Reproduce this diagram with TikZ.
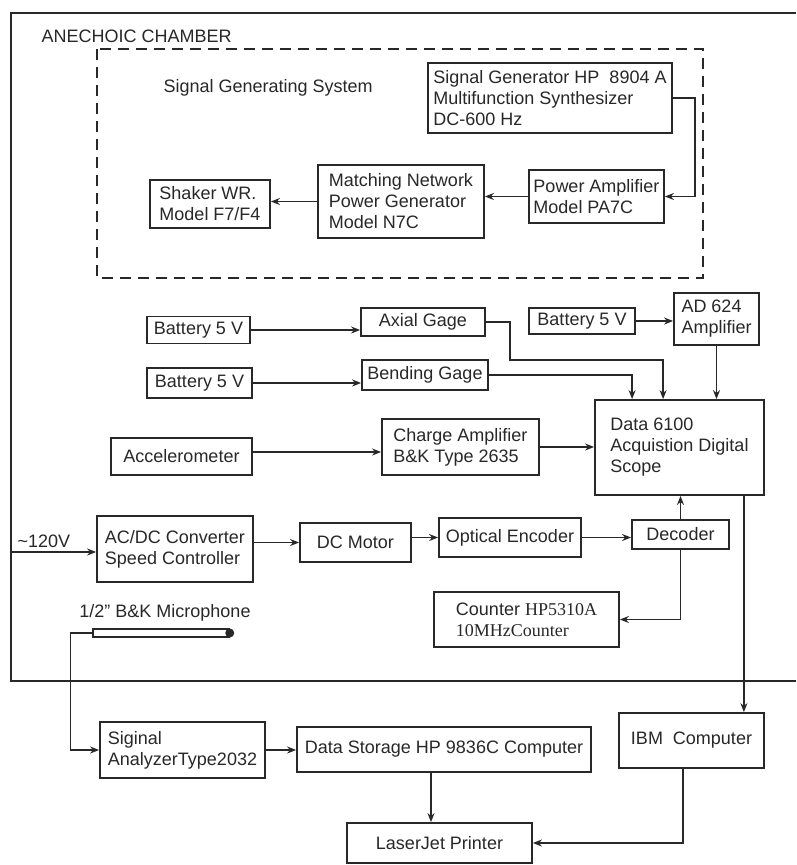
\documentclass[tikz,border=0pt]{standalone}
\usepackage{fontspec}
\setmainfont{Liberation Sans}
\newfontfamily\serf{Liberation Serif}
\usetikzlibrary{arrows.meta,calc}
\definecolor{ink}{RGB}{40,40,40}
\begin{document}
\begin{tikzpicture}[x=1pt,y=-1pt,
  every node/.style={font=\fontsize{18}{21}\selectfont, text=ink},
  box/.style={draw=ink, line width=1.8pt, inner xsep=4pt, inner ysep=0pt},
  arr/.style={draw=ink, line width=1.5pt, -{Stealth[length=9pt,width=7pt]}},
  ln/.style={draw=ink, line width=1.5pt}]
\useasboundingbox[fill=white] (0,0) rectangle (796,865);

% chamber and signal generating system
\draw[ink, line width=2.4pt] (796,13) -- (11,13) -- (11,681) -- (796,681);
\draw[ink, line width=1.7pt, dash pattern=on 11pt off 7pt] (97,49) rectangle (703,278);
\node[anchor=west] (chlabel) at (38,36) {ANECHOIC CHAMBER};
\node[anchor=west] (sgslabel) at (160,88) {Signal Generating System};

% boxes
\node[box, minimum width=244pt, minimum height=70pt, align=left] (siggen) at (550,98) {Signal Generator HP\ \ 8904 A\\Multifunction Synthesizer\\DC-600 Hz};
\node[box, minimum width=135pt, minimum height=53pt, align=left] (pamp) at (596.5,196.5) {Power Amplifier\\Model PA7C};
\node[box, minimum width=166pt, minimum height=73pt, align=left] (match) at (401,201.5) {Matching Network\\Power Generator\\Model N7C};
\node[box, minimum width=120pt, minimum height=48pt, align=left] (shaker) at (210,204) {Shaker WR.\\Model F7/F4};
\node[box, minimum width=103pt, minimum height=27pt] (bat1) at (198.5,330) {Battery 5 V};
\node[box, minimum width=105pt, minimum height=30pt] (bat2) at (199.5,383) {Battery 5 V};
\node[box, minimum width=141pt, minimum height=37pt] (accel) at (181.5,456.5) {Accelerometer};
\node[box, minimum width=156pt, minimum height=66pt, align=left] (acdc) at (175,549) {AC/DC Converter\\Speed Controller};
\node[box, minimum width=111pt, minimum height=39pt] (motor) at (355.5,542.5) {DC Motor};
\node[box, minimum width=124pt, minimum height=28pt] (axial) at (423,322) {Axial Gage};
\node[box, minimum width=126pt, minimum height=30pt] (bend) at (425,375) {Bending Gage};
\node[box, minimum width=106pt, minimum height=26pt] (bat3) at (582,321) {Battery 5 V};
\node[box, minimum width=85pt, minimum height=52pt, align=left] (ad) at (716.5,319) {AD 624\\Amplifier};
\node[box, minimum width=169pt, minimum height=95pt, align=left] (data) at (679.5,447.5) {Data 6100\\Acquistion Digital\\Scope};
\node[box, minimum width=157pt, minimum height=56pt, align=left] (charge) at (460.5,447) {Charge Amplifier\\B\&K Type 2635};
\node[box, minimum width=142pt, minimum height=39pt] (optical) at (510,537.5) {Optical Encoder};
\node[box, minimum width=97pt, minimum height=29pt] (decoder) at (680.5,534.5) {Decoder};
\node[box, minimum width=185pt, minimum height=55pt, align=left] (counter) at (526.5,619.5) {Counter {\serf HP5310A}\\{\serf 10MHzCounter}};
\node[box, minimum width=145pt, minimum height=55pt] (ibm) at (691.5,740.5) {IBM\ \ Computer};
\node[box, minimum width=165pt, minimum height=56pt, align=left] (sa) at (182.5,750) {Siginal\\AnalyzerType2032};
\node[box, minimum width=294pt, minimum height=45pt] (ds) at (444,749.5) {Data Storage HP 9836C Computer};
\node[box, minimum width=185pt, minimum height=40pt] (lj) at (439.5,843) {LaserJet Printer};

% microphone
\node[draw=ink, line width=1.5pt, minimum width=136pt, minimum height=8pt, inner sep=0pt] (mic) at (161,633) {};
\fill[ink] (mic.east) circle (4.5pt);
\node (miclabel) at (165,613) {1/2" B\&K Microphone};

% mains
\coordinate (wall) at (11,552);
\node[anchor=base west] (mains) at (14,547) {\textasciitilde120V};

% connectors
\draw[arr] (siggen.east) -- ++(22,0) |- (pamp.east);
\draw[arr] (pamp.west) -- (pamp.west -| match.east);
\draw[arr] (match.west) -- (match.west -| shaker.east);
\draw[arr] (bat1.east) -- (bat1.east -| axial.west);
\draw[arr] (bat2.east) -- (bat2.east -| bend.west);
\draw[arr] (bat3.east) -- (bat3.east -| ad.west);
\draw[arr] (axial.east) -- ++(24,0) -- ++(0,38) -| ([xshift=69pt]data.north west);
\draw[arr] (bend.east) -| ([xshift=38pt]data.north west);
\draw[arr] (ad.south) -- (ad.south |- data.north);
\draw[arr] ([yshift=4.5pt]accel.east) -- ([yshift=4.5pt]accel.east -| charge.west);
\draw[arr] (charge.east) -- (charge.east -| data.west);
\draw[arr] (wall) -- (wall -| acdc.west);
\draw[arr] (motor.west -| acdc.east) -- (motor.west);
\draw[arr] (optical.west -| motor.east) -- (optical.west);
\draw[arr] (optical.east) -- (optical.east -| decoder.west);
\draw[arr] (decoder.north) -- (decoder.north |- data.south);
\draw[arr] (decoder.south) |- (counter.east);
\draw[arr] ([xshift=-21pt]data.south east) -- ([xshift=-21pt]data.south east |- ibm.north);
\draw[arr] (mic.west) -- ++(-22,0) |- (sa.west);
\draw[arr] (sa.east) -- (sa.east -| ds.west);
\draw[arr] ([xshift=-13pt]ds.south) -- ([xshift=-13pt]ds.south |- lj.north);
\draw[arr] ([xshift=-8.5pt]ibm.south) |- (lj.east);
\end{tikzpicture}
\end{document}
